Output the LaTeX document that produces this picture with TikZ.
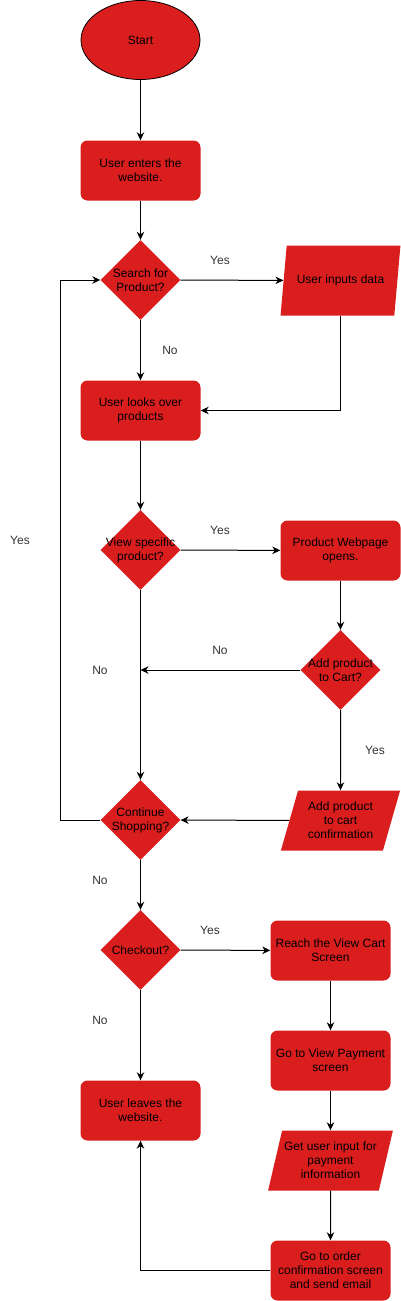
\documentclass[tikz,border=0pt]{standalone}
\usepackage{fontspec}
\setmainfont{Liberation Sans}
\usetikzlibrary{shapes.geometric,arrows.meta}
\definecolor{flowred}{RGB}{218,30,30}
\definecolor{lblgray}{RGB}{51,51,51}

\begin{document}
\begin{tikzpicture}[x=1pt,y=-1pt,
		every node/.style={font=\fontsize{12}{14}\selectfont, align=center},
		startnode/.style={ellipse, draw=black, line width=0.8pt, fill=flowred, minimum width=119pt, minimum height=79pt},
		procbox/.style={rectangle, rounded corners=7pt, fill=flowred, minimum width=120pt, minimum height=60pt, inner sep=0pt},
		decision/.style={diamond, aspect=1, fill=flowred, minimum width=80pt, minimum height=80pt, inner sep=0pt},
		iobox/.style={trapezium, trapezium left angle=71, trapezium right angle=109, trapezium stretches=true, fill=flowred, minimum width=120pt, minimum height=60pt, inner sep=2pt},
		lbl/.style={text=lblgray},
		flow/.style={line width=1pt, -{Stealth[length=8pt,width=7.5pt,inset=2.5pt]}}]
			\useasboundingbox (0,0) rectangle (401,1301);
			% left column
			\node[startnode] (start) at (140.5,40) {Start};
			\node[procbox] (enter) at (140.5,170.5) {User enters the\\website.};
			\node[decision, label=center:{Search for\\Product?}] (search) at (140.5,280) {};
			\node[procbox] (looks) at (140.5,410.5) {User looks over\\products};
			\node[decision, label=center:{View specific\\product?}] (view) at (140.5,550) {};
			\node[decision, label=center:{Continue\\Shopping?}] (continue) at (140.5,820) {};
			\node[decision, label=center:{Checkout?}] (checkout) at (140.5,950) {};
			\node[procbox] (leaves) at (140.5,1110.5) {User leaves the\\website.};
			% right column
			\node[iobox, minimum height=70pt] (inputs) at (340.5,280.5) {User inputs data};
			\node[procbox] (webpage) at (340.5,550.5) {Product Webpage\\opens.};
			\node[decision, label=center:{Add product\\to Cart?}] (addcart) at (340.5,670) {};
			\node[iobox] (confirm) at (340.5,820.5) {Add product\\to cart\\confirmation};
			\node[procbox] (cart) at (330.5,950.5) {Reach the View Cart\\Screen};
			\node[procbox] (payment) at (330.5,1060.5) {Go to View Payment\\screen};
			\node[iobox] (payinput) at (330.5,1160.5) {Get user input for\\payment\\information};
			\node[procbox] (order) at (330.5,1270.5) {Go to order\\confirmation screen\\and send email};
			\coordinate (loop) at (60.5,550);
			% connectors
			\draw[flow] (start) -- (enter);
			\draw[flow] (enter) -- (search);
			\draw[flow] (search) -- (inputs);
			\draw[flow] (search) -- (looks);
			\draw[flow] (inputs.south) |- (looks.east);
			\draw[flow] (looks) -- (view);
			\draw[flow] (view) -- (webpage);
			\draw[flow] (webpage) -- (addcart);
			\draw[flow] (addcart.west) -- (addcart.west -| view.south);
			\draw[flow] (view) -- (continue);
			\draw[flow] (addcart) -- (confirm);
			\draw[flow] (confirm) -- (continue);
			\draw[flow] (continue.west) -| (loop) |- (search.west);
			\draw[flow] (continue) -- (checkout);
			\draw[flow] (checkout) -- (cart);
			\draw[flow] (cart) -- (payment);
			\draw[flow] (payment) -- (payinput);
			\draw[flow] (payinput) -- (order);
			\draw[flow] (checkout) -- (leaves);
			\draw[flow] (order.west) -| (leaves.south);
			% labels
			\node[lbl] (yes1) at (220,260) {Yes};
			\node[lbl] (no1) at (170,350) {No};
			\node[lbl] (yes2) at (220,530) {Yes};
			\node[lbl] (no2) at (220,650) {No};
			\node[lbl] (no3) at (100,670) {No};
			\node[lbl] (yes3) at (375,750) {Yes};
			\node[lbl] (yes4) at (20,540) {Yes};
			\node[lbl] (no4) at (100,880) {No};
			\node[lbl] (yes5) at (210,930) {Yes};
			\node[lbl] (no5) at (100,1020) {No};
		\end{tikzpicture}
\end{document}
